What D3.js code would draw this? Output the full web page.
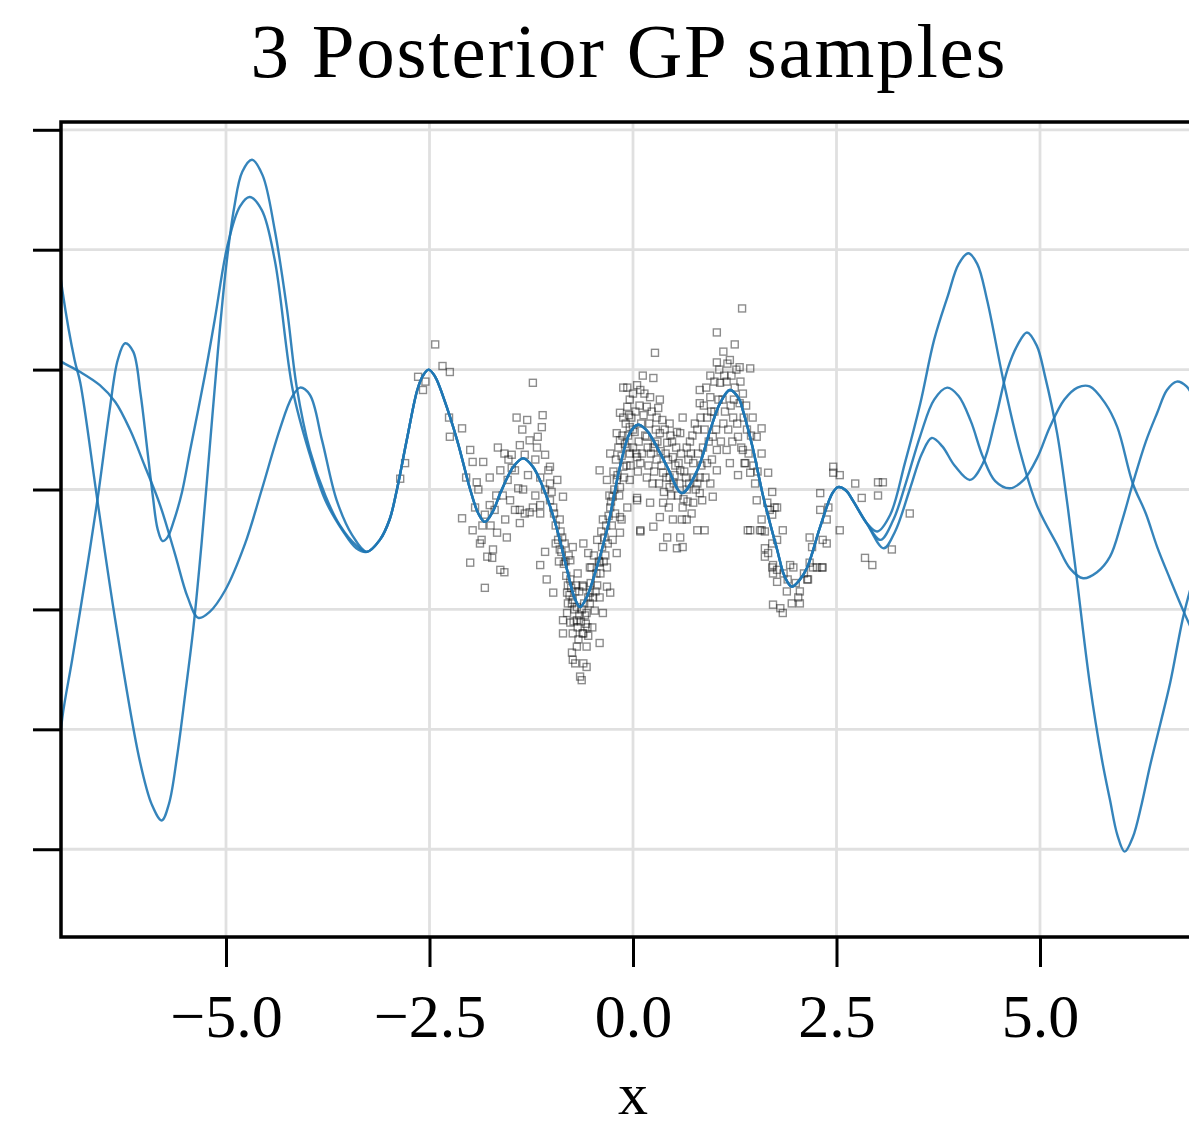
<!DOCTYPE html>
<html>
<head>
<meta charset="utf-8">
<script src="https://cdn.jsdelivr.net/npm/d3@7"></script>
<style>
  body { margin: 0; background: #fff; }
  text { font-family: "Liberation Serif", "Times New Roman", serif; fill: #000; }
</style>
</head>
<body>
<svg id="chart" width="1189" height="1129"></svg>
<script>
// ticks
const xTicks = [-5, -2.5, 0, 2.5, 5];
const yTicks = [-3, -2, -1, 0, 1, 2, 3];

// part of the posterior that all three samples share (data region)
const sharedMid = [
  [-3.27,-0.52],[-3.11,-0.42],[-2.99,-0.25],[-2.90,0.0],[-2.78,0.41],[-2.65,0.83],[-2.58,0.95],
  [-2.51,1.00],[-2.43,0.94],[-2.33,0.77],[-2.16,0.41],[-2.00,0.00],[-1.90,-0.20],[-1.82,-0.27],
  [-1.72,-0.18],[-1.63,-0.03],[-1.47,0.19],[-1.35,0.26],[-1.23,0.19],[-1.06,-0.06],[-0.93,-0.34],
  [-0.81,-0.67],[-0.72,-0.90],[-0.65,-0.98],[-0.57,-0.90],[-0.49,-0.75],[-0.32,-0.34],[-0.16,0.19],
  [-0.04,0.47],[0.06,0.54],[0.16,0.50],[0.25,0.41],[0.42,0.19],[0.60,-0.03],[0.79,0.16],[0.95,0.50],
  [1.07,0.72],[1.19,0.83],[1.30,0.76],[1.35,0.66],[1.47,0.35],[1.60,-0.06],[1.77,-0.50],[1.86,-0.72],
  [1.95,-0.81],[2.04,-0.76],[2.14,-0.65],[2.30,-0.31],[2.45,-0.03],[2.52,0.02],[2.62,-0.01],
  [2.70,-0.09],[2.87,-0.28]
];

// sample tails outside the data
const sample1Left = [
  [-7.08,2.05],[-7.01,1.66],[-6.86,1.08],[-6.79,0.89],[-6.58,-0.09],[-6.36,-1.09],[-6.06,-2.26],
  [-5.91,-2.63],[-5.79,-2.76],[-5.70,-2.62],[-5.60,-2.22],[-5.50,-1.70],[-5.40,-1.15],[-5.30,-0.45],
  [-5.20,0.35],[-5.10,1.15],[-5.00,1.85],[-4.90,2.35],[-4.80,2.65],[-4.68,2.75],[-4.55,2.62],
  [-4.40,2.16],[-4.25,1.50],[-4.13,0.85],[-3.97,0.33],[-3.78,-0.05],[-3.60,-0.30],[-3.41,-0.46]
];
const sample1Right = [
  [3.00,-0.35],[3.16,-0.21],[3.34,0.22],[3.53,0.72],[3.70,1.25],[3.87,1.62],[4.00,1.88],[4.12,1.97],
  [4.23,1.88],[4.35,1.58],[4.55,0.91],[4.75,0.33],[4.96,-0.13],[5.21,-0.46],[5.37,-0.66],[5.53,-0.74],
  [5.70,-0.69],[5.86,-0.56],[6.00,-0.28],[6.14,0.05],[6.30,0.40],[6.44,0.64],[6.56,0.83],[6.68,0.90],
  [6.80,0.86],[6.92,0.72],[7.05,0.50]
];
const sample2Left = [
  [-7.08,-2.40],[-7.01,-1.90],[-6.89,-1.42],[-6.73,-0.75],[-6.58,-0.09],[-6.43,0.66],[-6.33,1.08],
  [-6.24,1.22],[-6.14,1.15],[-6.05,0.80],[-5.97,0.35],[-5.90,-0.05],[-5.84,-0.33],[-5.78,-0.43],
  [-5.72,-0.40],[-5.64,-0.26],[-5.54,-0.02],[-5.44,0.33],[-5.26,0.95],[-5.14,1.41],[-4.98,2.04],
  [-4.83,2.36],[-4.71,2.44],[-4.56,2.33],[-4.40,1.91],[-4.18,0.83],[-3.97,0.29],[-3.78,-0.09],
  [-3.57,-0.34],[-3.40,-0.49]
];
const sample2Right = [
  [3.04,-0.42],[3.20,-0.25],[3.35,0.05],[3.53,0.45],[3.70,0.75],[3.86,0.85],[4.00,0.78],[4.15,0.57],
  [4.30,0.27],[4.45,0.07],[4.63,0.01],[4.80,0.08],[4.97,0.27],[5.12,0.52],[5.30,0.75],[5.46,0.85],
  [5.61,0.86],[5.80,0.72],[5.95,0.52],[6.14,0.05],[6.30,-0.20],[6.44,-0.48],[6.60,-0.75],[6.76,-1.01],
  [7.05,-1.45]
];
const sample3Left = [
  [-7.08,1.09],[-7.01,1.06],[-6.79,0.98],[-6.55,0.87],[-6.36,0.73],[-6.18,0.50],[-6.00,0.20],
  [-5.81,-0.13],[-5.63,-0.53],[-5.47,-0.90],[-5.34,-1.07],[-5.20,-1.02],[-5.01,-0.84],[-4.77,-0.46],
  [-4.56,0.00],[-4.34,0.50],[-4.19,0.77],[-4.09,0.85],[-3.97,0.79],[-3.82,0.41],[-3.64,-0.09],
  [-3.45,-0.38]
];
const sample3Right = [
  [3.08,-0.49],[3.22,-0.35],[3.40,0.00],[3.55,0.30],[3.67,0.43],[3.80,0.36],[3.95,0.20],[4.14,0.08],
  [4.30,0.22],[4.45,0.58],[4.60,1.00],[4.72,1.20],[4.84,1.31],[4.96,1.20],[5.06,0.95],[5.21,0.47],
  [5.33,-0.09],[5.45,-0.73],[5.61,-1.61],[5.76,-2.25],[5.86,-2.59],[5.95,-2.88],[6.04,-3.02],
  [6.14,-2.90],[6.25,-2.62],[6.35,-2.31],[6.48,-1.95],[6.60,-1.61],[6.76,-1.06],[6.90,-0.70],
  [7.05,-0.35]
];

// noisy observations
const observations = [
  [-2.43,1.21],[-2.34,1.03],[-2.25,0.98],[-2.64,0.94],[-2.58,0.83],[-2.55,0.90],[-2.10,0.51],[-2.25,0.44],
  [-2.26,0.60],[-2.80,0.22],[-2.86,0.09],
  [-2.00,0.33],[-1.97,0.23],[-1.84,0.23],[-1.92,0.06],[-1.76,0.10],[-1.66,0.35],[-2.10,-0.24],[-1.97,-0.34],
  [-1.86,-0.42],[-1.79,-0.56],[-2.00,-0.61],[-1.72,-0.50],[-1.67,-0.36],[-1.55,-0.40],[-1.63,-0.67],
  [-1.58,-0.69],[-1.82,-0.82],[-1.88,-0.45],[-1.94,-0.15],[-1.76,-0.13],[-1.82,-0.21],[-1.70,-0.17],
  [-1.60,-0.05],[-1.54,0.08],[-1.49,0.18],[-1.57,-0.25],[-1.51,-0.09],[-1.45,-0.17],[-1.63,0.16],
  [-1.41,0.01],[-1.90,0.00],[-2.05,0.10],[-1.85,-0.30],[-1.75,-0.30],[-1.68,-0.05],[-1.58,0.30],
  [-1.53,0.25],[-1.73,-0.57],
  [-1.43,0.60],[-1.30,0.58],[-1.11,0.62],[-1.12,0.52],[-1.17,0.44],[-1.18,0.35],[-1.36,0.50],[-1.27,0.41],
  [-1.39,0.37],[-1.49,0.29],[-1.33,0.29],[-1.20,0.25],[-1.08,0.29],[-1.45,0.16],[-1.29,0.12],[-1.14,0.10],
  [-1.04,0.16],[-1.35,0.00],[-1.20,-0.05],[-1.08,0.00],[-1.02,0.05],[-1.39,-0.17],[-1.27,-0.19],
  [-1.23,0.89],[-1.14,-0.13],[-1.02,-0.09],[-1.33,-0.20],[-1.23,-0.15],[-1.39,-0.28],[-1.14,-0.20],
  [-1.14,-0.63],[-1.06,-0.75],[-1.08,-0.52],
  [-0.98,-0.86],[-0.98,-0.15],[-0.90,-0.25],[-0.86,-0.06],[-0.93,0.08],[-1.02,0.19],[-0.87,-0.40],
  [-0.90,-0.50],[-0.77,-0.59],[-0.74,-0.48],[-0.61,-0.45],[-0.55,-0.53],[-0.77,-0.75],[-0.68,-0.70],
  [-0.61,-0.81],[-0.81,-0.86],[-0.74,-0.92],[-0.53,-0.86],[-0.81,-1.03],[-0.77,-1.11],[-0.69,-1.09],
  [-0.57,-1.03],[-0.47,-1.01],[-0.41,-0.90],[-0.74,-1.20],[-0.61,-1.20],[-0.50,-1.15],[-0.41,-1.28],
  [-0.69,-1.31],[-0.57,-1.31],[-0.74,-1.42],[-0.61,-1.45],[-0.65,-1.56],[-0.57,-1.48],[-0.75,-1.36],
  [-0.86,-1.20],[-0.86,-1.09],[-0.63,-1.59],
  [-1.00,-0.02],[-0.97,-0.20],[-0.95,-0.30],[-0.92,-0.42],[-0.88,-0.52],[-0.85,-0.62],[-0.82,-0.72],
  [-0.80,-0.80],[-0.78,-0.88],[-0.75,-0.95],[-0.72,-1.00],[-0.69,-0.98],[-0.66,-1.05],[-0.63,-1.00],
  [-0.60,-0.95],[-0.58,-1.12],[-0.55,-0.90],[-0.52,-0.78],[-0.84,-0.45],[-0.79,-0.55],[-0.70,-0.80],
  [-0.66,-0.85],[-0.62,-1.20],[-0.67,-1.25],[-0.55,-1.22],[-0.71,-1.45],
  [-0.95,-0.45],[-0.91,-0.60],[-0.89,-0.35],[-0.83,-0.60],[-0.80,-0.95],[-0.76,-0.82],[-0.73,-1.10],
  [-0.71,-0.85],[-0.68,-1.15],[-0.64,-1.10],[-0.62,-0.80],[-0.59,-1.05],[-0.56,-1.15],[-0.53,-0.95],
  [-0.51,-0.65],[-0.49,-0.90],[-0.48,-0.55],[-0.44,-0.80],[-0.40,-0.70],[-0.39,-0.35],[-0.36,-0.60],
  [-0.33,-0.30],[-0.31,-0.45],[-0.29,-0.05],[-0.26,-0.30],[-0.24,0.15],[-0.22,-0.20],[-0.21,0.25],
  [-0.18,0.35],[-0.17,-0.05],[-0.13,0.45],[-0.11,0.10],[-0.09,0.55],[-0.05,0.62],[-0.03,0.20],
  [-0.44,-0.42],[-0.37,-0.25],[-0.28,-0.15],[-0.41,0.16],[-0.32,0.08],[-0.20,0.08],[-0.25,-0.06],
  [-0.16,-0.23],[-0.16,0.64],[-0.07,0.69],[0.00,0.80],[-0.12,0.85],[0.05,0.87],[-0.04,0.52],[-0.20,0.47],
  [-0.07,0.35],[0.05,0.27],[-0.28,0.30],[-0.32,-0.65],[-0.25,-0.42],[-0.41,-0.61],[-0.32,-0.81],
  [-0.53,-0.65],[0.05,-0.07],[0.09,-0.35],[-0.37,-1.03],[-0.28,-0.86],[-0.20,-0.53],[-0.16,-0.36],
  [-0.07,-0.15],[-0.16,0.02],[-0.04,0.08],
  [-0.45,-0.70],[-0.42,-0.60],[-0.38,-0.48],[-0.35,-0.40],[-0.30,-0.22],[-0.27,-0.10],[-0.23,0.00],
  [-0.19,0.12],[-0.14,0.28],[-0.10,0.38],[-0.06,0.45],[-0.02,0.60],[0.02,0.48],[-0.46,-0.85],[-0.34,-0.55],
  [-0.07,0.85],[0.12,0.95],[0.25,0.93],[0.27,1.14],[0.09,0.83],[-0.04,0.75],[0.21,0.77],[0.33,0.75],
  [0.17,0.69],[-0.12,0.60],[0.29,0.60],[0.45,0.55],[0.61,0.60],[0.00,0.50],[0.33,0.47],[0.17,0.44],
  [-0.16,0.41],[-0.04,0.30],[0.25,0.35],[0.42,0.39],[0.58,0.47],[0.49,0.27],[0.66,0.35],[-0.12,0.19],
  [0.09,0.22],[0.29,0.25],[0.37,0.14],[0.58,0.16],[0.74,0.22],[0.17,0.10],[0.45,0.02],[0.66,0.00],
  [0.79,0.05],[0.82,0.10],[0.05,-0.09],[0.21,-0.11],[0.37,-0.11],[0.61,-0.15],[0.74,-0.11],[0.85,-0.09],
  [0.33,-0.23],[0.49,-0.25],[0.66,-0.25],[-0.14,-0.25],[0.09,-0.34],[0.25,-0.31],[0.42,-0.40],
  [0.58,-0.40],[0.37,-0.48],[0.54,-0.49],[0.61,-0.48],[0.79,-0.34],[0.88,-0.34],
  [0.10,0.55],[0.15,0.45],[0.20,0.55],[0.22,0.30],[0.30,0.40],[0.35,0.20],[0.40,0.30],[0.45,0.10],
  [0.50,0.05],[0.52,0.20],[0.55,-0.05],[0.57,0.05],[0.62,-0.08],[0.65,0.10],[0.68,0.25],[0.03,0.65],
  [0.08,0.70],[0.13,0.62],[0.18,0.35],[0.26,0.15],[0.32,0.05],[0.38,-0.02],[0.44,-0.15],[0.48,0.40],
  [0.53,0.35],[-0.08,0.20],[0.00,0.35],[0.07,0.40],[0.28,0.50],[0.36,0.58],
  [0.04,0.30],[0.06,0.15],[0.11,0.30],[0.14,0.80],[0.19,0.20],[0.23,0.65],[0.24,0.05],[0.27,0.38],
  [0.31,0.68],[0.34,0.32],[0.39,0.50],[0.41,0.10],[0.43,0.25],[0.46,0.45],[0.47,-0.05],[0.51,0.12],
  [0.54,0.48],[0.56,0.22],[0.59,0.30],[0.60,-0.25],[0.63,0.15],[0.67,-0.10],[0.69,0.05],[0.71,0.30],
  [0.72,-0.20],[0.73,0.45],[0.76,0.55],[0.77,0.00],[0.80,0.30],[0.83,0.60],[0.84,0.20],[0.87,0.70],
  [0.89,0.10],[0.90,0.85],[0.93,0.40],[0.96,0.65],[0.97,0.25],[1.00,0.90],[1.02,0.50],[1.05,0.75],
  [1.06,1.00],[1.08,0.40],[1.12,0.95],[1.13,0.65],[1.16,1.05],[1.17,0.50],[1.21,0.95],[1.22,0.40],
  [1.24,0.75],[1.27,1.00],[1.28,0.55],[1.32,0.90],[1.33,0.35],[1.36,0.60],[1.39,0.70],[1.42,0.30],
  [1.45,0.45],[1.48,0.20],[1.50,0.05],[1.53,0.15],
  [0.82,0.83],[0.95,0.95],[1.03,1.06],[1.11,1.15],[1.03,1.31],[1.25,1.21],[1.34,1.51],[1.19,1.08],
  [1.31,1.02],[1.44,1.01],[0.82,0.72],[0.95,0.77],[1.07,0.89],[0.91,0.60],[0.79,0.50],[0.98,0.44],
  [1.11,0.55],[1.23,0.60],[1.31,0.72],[0.86,0.35],[1.03,0.33],[1.15,0.33],[1.29,0.44],[1.40,0.50],
  [0.91,0.22],[1.03,0.16],[1.19,0.22],[1.29,0.12],[1.38,0.22],[0.95,0.05],[0.82,-0.03],[0.98,-0.06],
  [1.47,0.60],[1.58,0.51],[1.52,0.44],[1.10,0.75],[1.15,0.90],[1.20,0.70],[1.00,0.65],[0.88,0.50],
  [1.25,0.85],[1.35,0.80],[0.70,0.40],[0.75,0.10],
  [1.58,0.30],[1.41,-0.34],[1.56,-0.34],[1.35,0.33],[1.37,0.22],[1.44,0.14],[1.66,0.14],[1.71,-0.02],
  [1.52,-0.09],[1.65,-0.11],[1.77,-0.15],[1.71,-0.21],[1.44,-0.34],[1.58,-0.34],[1.84,-0.34],
  [1.77,-0.42],[1.62,-0.49],[1.62,-0.56],[1.71,-0.65],[1.72,-0.70],[1.77,-0.77],[1.93,-0.63],
  [2.17,-0.61],[2.26,-0.65],[2.33,-0.65],[2.15,-0.75],[2.05,-0.85],[1.89,-0.85],[2.03,-0.90],
  [1.95,-0.95],[2.05,-0.95],[1.72,-0.96],[1.81,-0.99],[1.84,-1.03],[2.17,-0.40],[2.20,-0.48],
  [2.33,-0.42],[2.30,-0.17],[2.40,-0.15],[2.38,-0.25],[2.30,-0.03],[2.46,0.19],[2.46,0.14],[2.54,0.12],
  [2.73,0.05],[2.81,-0.07],[3.01,0.06],[3.07,0.06],[3.01,-0.05],[2.54,-0.34],[2.85,-0.57],[2.94,-0.63],
  [3.18,-0.50],[3.40,-0.20],[1.66,-0.53],[1.71,-0.45],[1.62,-0.35],[1.58,-0.25],[1.68,-0.17],
  [1.74,-0.15],[1.97,-0.65],[1.72,-0.63],[1.77,-0.67],[2.21,-0.65],[2.14,-0.75],[2.32,-0.65],
  [2.38,-0.45],[1.90,-0.75],[2.00,-0.78],[1.85,-0.70],[2.10,-0.70]
];

const samples = [
  sample1Left.concat(sharedMid, sample1Right),
  sample2Left.concat(sharedMid, sample2Right),
  sample3Left.concat(sharedMid, sample3Right)
];

const svg = d3.select('#chart');
const plotLeft = 61, plotTop = 122, plotRight = 1205, plotBottom = 937;

svg.append('rect').attr('width', 1189).attr('height', 1129).attr('fill', '#fff');

const x = d3.scaleLinear().domain([-7.027, 7.027]).range([plotLeft, plotRight]);
const y = d3.scaleLinear().domain([-3.732, 3.065]).range([plotBottom, plotTop]);

svg.append('defs').append('clipPath').attr('id', 'plot-clip')
  .append('rect')
  .attr('x', plotLeft).attr('y', plotTop)
  .attr('width', plotRight - plotLeft).attr('height', plotBottom - plotTop);

// grid
const grid = svg.append('g');
grid.selectAll('.vgrid')
  .data(xTicks)
  .enter()
  .append('line')
  .attr('x1', d => x(d)).attr('x2', d => x(d))
  .attr('y1', plotTop).attr('y2', plotBottom)
  .attr('stroke', '#e0e0e0').attr('stroke-width', 2.8);
grid.selectAll('.hgrid')
  .data(yTicks)
  .enter()
  .append('line')
  .attr('x1', plotLeft).attr('x2', plotRight)
  .attr('y1', d => y(d)).attr('y2', d => y(d))
  .attr('stroke', '#e0e0e0').attr('stroke-width', 2.8);

const plot = svg.append('g').attr('clip-path', 'url(#plot-clip)');

// observations: hollow squares
const s = 7;
plot.selectAll('.obs')
  .data(observations)
  .enter()
  .append('rect')
  .attr('x', d => x(d[0]) - s / 2)
  .attr('y', d => y(d[1]) - s / 2)
  .attr('width', s).attr('height', s)
  .attr('fill', 'none')
  .attr('stroke', '#000')
  .attr('stroke-opacity', 0.45)
  .attr('stroke-width', 1.4);

// posterior samples
const line = d3.line()
  .x(d => x(d[0]))
  .y(d => y(d[1]))
  .curve(d3.curveCatmullRom.alpha(0.5));

plot.selectAll('.sample')
  .data(samples)
  .enter()
  .append('path')
  .attr('d', line)
  .attr('fill', 'none')
  .attr('stroke', '#1f77b4')
  .attr('stroke-opacity', 0.9)
  .attr('stroke-width', 2.4);

// axes
const xAxis = svg.append('g')
  .attr('transform', `translate(0,${plotBottom})`)
  .call(d3.axisBottom(x).tickValues(xTicks).tickFormat(d3.format('.1f')).tickSize(30).tickPadding(26));
xAxis.select('.domain').remove();
xAxis.selectAll('.tick line').attr('stroke', '#000').attr('stroke-width', 3);
xAxis.selectAll('.tick text').attr('font-size', 62).attr('font-family', '"Liberation Serif", serif');

const yAxis = svg.append('g')
  .attr('transform', `translate(${plotLeft},0)`)
  .call(d3.axisLeft(y).tickValues(yTicks).tickFormat('').tickSize(28));
yAxis.select('.domain').remove();
yAxis.selectAll('.tick line').attr('stroke', '#000').attr('stroke-width', 3);

// spines
svg.append('path')
  .attr('d', `M${plotRight},${plotTop}H${plotLeft}V${plotBottom}H${plotRight}`)
  .attr('fill', 'none')
  .attr('stroke', '#000')
  .attr('stroke-width', 3.5);

// title and label
svg.append('text')
  .attr('x', 628).attr('y', 77)
  .attr('text-anchor', 'middle')
  .attr('font-size', 77)
  .attr('textLength', 755)
  .attr('lengthAdjust', 'spacing')
  .text('3 Posterior GP samples');

svg.append('text')
  .attr('x', x(0)).attr('y', 1114)
  .attr('text-anchor', 'middle')
  .attr('font-size', 60)
  .text('x');
</script>
</body>
</html>
